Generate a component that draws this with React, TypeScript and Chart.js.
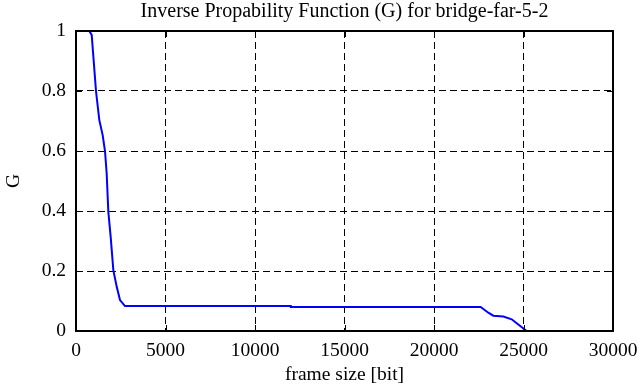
import React, { useEffect, useRef } from "react";
import { Chart, registerables } from "chart.js";

Chart.register(...registerables);

const frameSize = [743, 877, 1117, 1303, 1490, 1620, 1713, 1806, 1937, 2086, 2272, 2458, 2737, 12000, 12000, 22607, 23035, 23315, 23873, 24340, 24620, 25178];
const gValues = [1, 0.987, 0.8, 0.703, 0.653, 0.6, 0.526, 0.398, 0.314, 0.203, 0.148, 0.103, 0.083, 0.083, 0.08, 0.08, 0.061, 0.051, 0.048, 0.039, 0.026, 0];

const titleText = "Inverse Propability Function (G) for bridge-far-5-2";
const xLabel = "frame size [bit]";
const yLabel = "G";

const FONT = "'Liberation Serif', 'DejaVu Serif', serif";
const DASH = [7, 4];

const boxPlugin = {
  id: "boxPlugin",
  afterDraw(chart: any) {
    const { ctx, chartArea } = chart;
    const { left, right, top, bottom } = chartArea;
    ctx.save();
    ctx.strokeStyle = "#000";
    ctx.setLineDash([]);
    ctx.lineWidth = 1;
    const xs = chart.scales.x;
    const ys = chart.scales.y;
    const tl = 6;
    ctx.beginPath();
    xs.ticks.forEach((t: any) => {
      const px = Math.round(xs.getPixelForValue(t.value)) + 0.5;
      ctx.moveTo(px, bottom);
      ctx.lineTo(px, bottom - tl);
      ctx.moveTo(px, top);
      ctx.lineTo(px, top + tl);
    });
    ys.ticks.forEach((t: any) => {
      const py = Math.round(ys.getPixelForValue(t.value)) + 0.5;
      ctx.moveTo(left, py);
      ctx.lineTo(left + tl, py);
      ctx.moveTo(right, py);
      ctx.lineTo(right - tl, py);
    });
    ctx.stroke();
    ctx.lineWidth = 2;
    ctx.strokeRect(left, top, right - left, bottom - top);
    ctx.fillStyle = "#000";
    ctx.font = `20px ${FONT}`;
    ctx.textAlign = "center";
    ctx.textBaseline = "alphabetic";
    ctx.fillText(titleText, (left + right) / 2, 17);
    ctx.restore();
  },
};

export default function App() {
  const canvasRef = useRef<HTMLCanvasElement | null>(null);

  useEffect(() => {
    const canvas = canvasRef.current;
    if (!canvas) return;
    const data = frameSize.map((x, i) => ({ x, y: gValues[i] }));
    const chart = new Chart(canvas, {
      type: "line",
      data: {
        datasets: [
          {
            data,
            borderColor: "#0000ff",
            borderWidth: 2,
            pointRadius: 0,
            fill: false,
            tension: 0,
          },
        ],
      },
      options: {
        animation: false,
        responsive: false,
        maintainAspectRatio: false,
        layout: { padding: { left: 0, right: 26, top: 31, bottom: 0 } },
        plugins: {
          legend: { display: false },
          tooltip: { enabled: false },
          title: { display: false },
        },
        scales: {
          x: {
            type: "linear",
            min: 0,
            max: 30000,
            afterFit: (axis: any) => {
              axis.height = 56;
              axis.paddingLeft = 0;
              axis.paddingRight = 0;
            },
            ticks: {
              stepSize: 5000,
              color: "#000",
              padding: 8,
              maxRotation: 0,
              font: { family: FONT, size: 19.5 },
              callback: (v: any) => String(v),
            },
            grid: { color: "#000", lineWidth: 1, drawTicks: false },
            border: { display: false, dash: DASH },
            title: {
              display: true,
              text: xLabel,
              color: "#000",
              font: { family: FONT, size: 19.5 },
              padding: { top: 0, bottom: 0 },
            },
          },
          y: {
            type: "linear",
            min: 0,
            max: 1,
            afterFit: (axis: any) => {
              axis.width = 76;
              axis.paddingTop = 0;
              axis.paddingBottom = 0;
            },
            ticks: {
              stepSize: 0.2,
              color: "#000",
              padding: 10,
              font: { family: FONT, size: 19.5 },
              callback: (v: any) => String(Math.round(Number(v) * 10) / 10),
            },
            grid: { color: "#000", lineWidth: 1, drawTicks: false },
            border: { display: false, dash: DASH },
            title: {
              display: true,
              text: yLabel,
              color: "#000",
              font: { family: FONT, size: 19.5 },
              padding: { top: 2.5, bottom: 0 },
            },
          },
        },
      },
      plugins: [boxPlugin],
    });
    return () => chart.destroy();
  }, []);

  return (
    <div style={{ position: "fixed", left: 0, top: 0, width: 639, height: 387, background: "#fff" }}>
      <canvas ref={canvasRef} width={639} height={387} style={{ width: 639, height: 387 }} />
    </div>
  );
}
